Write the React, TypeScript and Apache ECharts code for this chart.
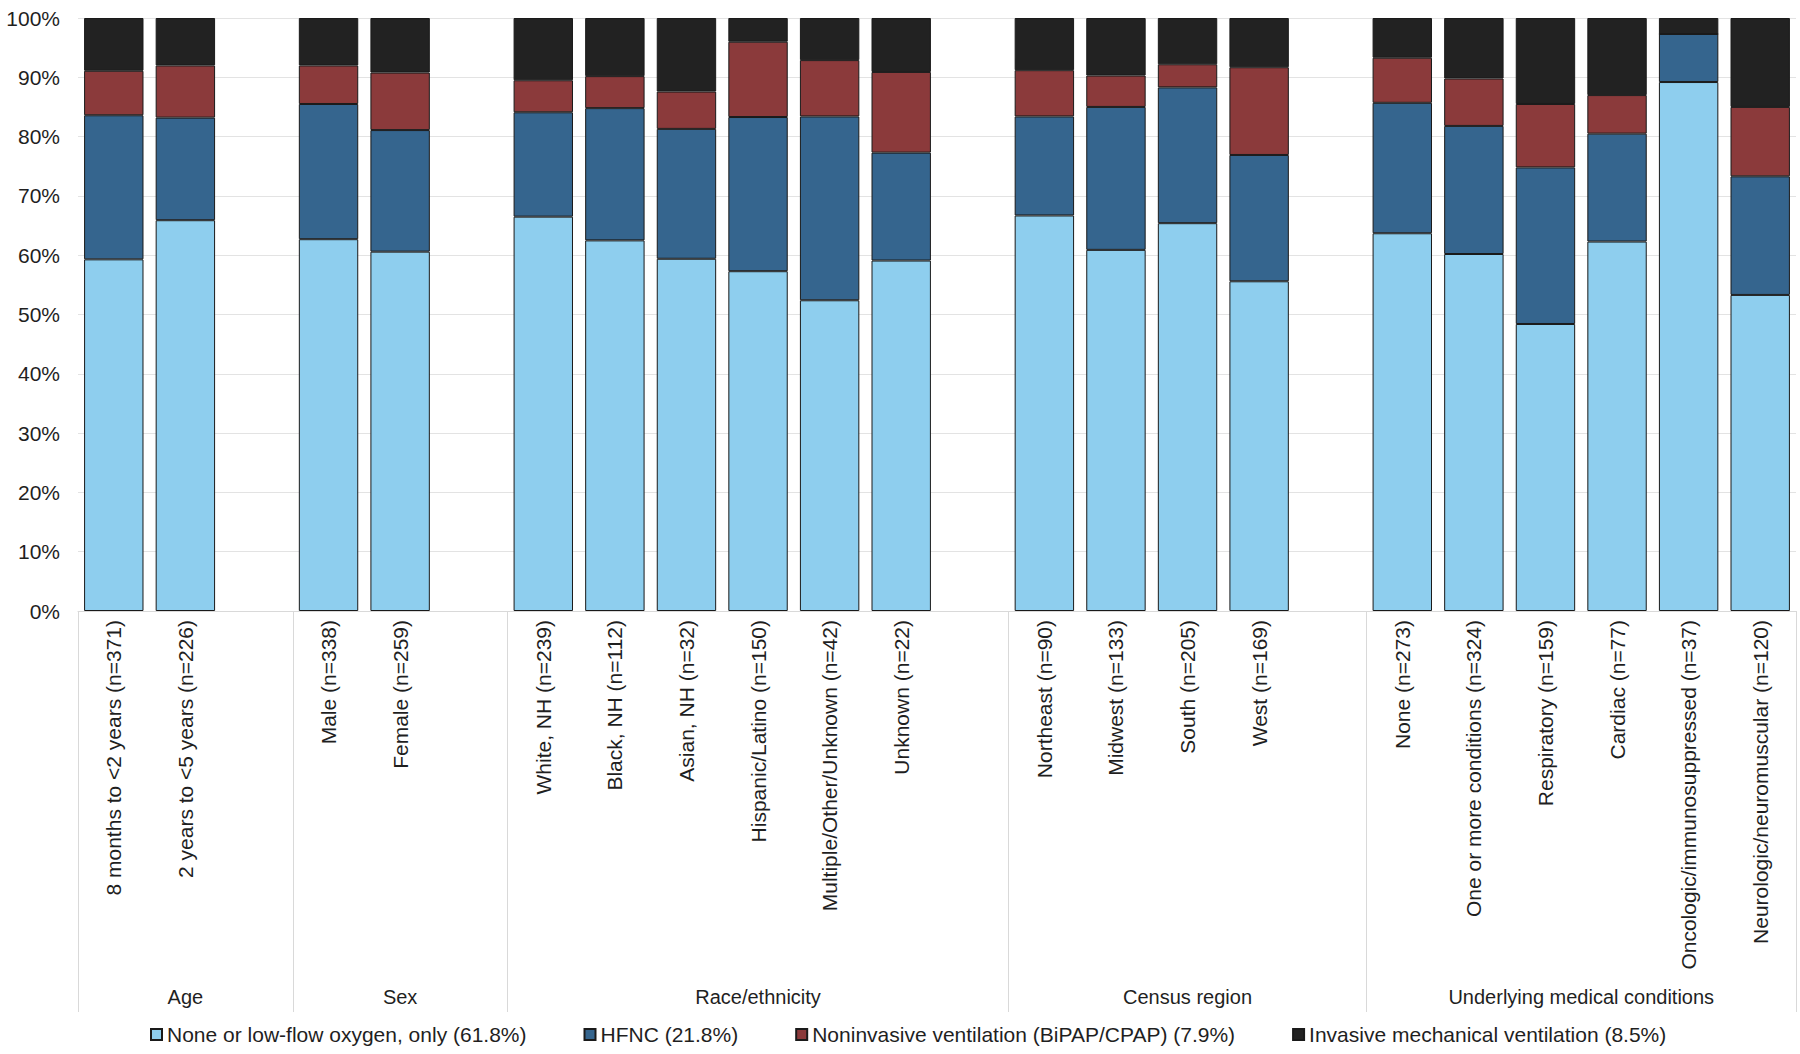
import React, { useEffect, useRef } from "react";
import * as echarts from "echarts";

const groupNames = ["Age", "Sex", "Race/ethnicity", "Census region", "Underlying medical conditions"];
const groupSizes = [2, 2, 6, 4, 6];

const categories = [
  "8 months to <2 years (n=371)",
  "2 years to <5 years (n=226)",
  "Male (n=338)",
  "Female (n=259)",
  "White, NH (n=239)",
  "Black, NH (n=112)",
  "Asian, NH (n=32)",
  "Hispanic/Latino (n=150)",
  "Multiple/Other/Unknown (n=42)",
  "Unknown (n=22)",
  "Northeast (n=90)",
  "Midwest (n=133)",
  "South (n=205)",
  "West (n=169)",
  "None (n=273)",
  "One or more conditions (n=324)",
  "Respiratory (n=159)",
  "Cardiac (n=77)",
  "Oncologic/immunosuppressed (n=37)",
  "Neurologic/neuromuscular (n=120)",
];

const seriesNames = [
  "None or low-flow oxygen, only (61.8%)",
  "HFNC (21.8%)",
  "Noninvasive ventilation (BiPAP/CPAP) (7.9%)",
  "Invasive mechanical ventilation (8.5%)",
];

const lowFlow = [59.3, 65.9, 62.7, 60.6, 66.5, 62.5, 59.4, 57.3, 52.4, 59.1, 66.7, 60.9, 65.4, 55.6, 63.7, 60.2, 48.4, 62.3, 89.2, 53.3];
const hfnc = [24.3, 17.3, 22.8, 20.5, 17.6, 22.3, 21.9, 26.0, 31.0, 18.2, 16.7, 24.1, 22.9, 21.3, 22.0, 21.6, 26.4, 18.2, 8.1, 20.0];
const niv = [7.5, 8.8, 6.5, 9.7, 5.4, 5.4, 6.3, 12.7, 9.5, 13.6, 7.8, 5.3, 3.9, 14.8, 7.6, 8.0, 10.7, 6.5, 0, 11.7];
const imv = [8.9, 8.0, 8.0, 9.2, 10.5, 9.8, 12.4, 4.0, 7.1, 9.1, 8.8, 9.7, 7.8, 8.3, 6.7, 10.2, 14.5, 13.0, 2.7, 15.0];

const yTicks = [0, 10, 20, 30, 40, 50, 60, 70, 80, 90, 100];

const seriesColors = ["#8ECEEE", "#35658E", "#8B3A3B", "#222222"];
const FONT = '"Liberation Sans", Arial, Helvetica, sans-serif';
const TEXT = "#1f1f1f";

// Build slot layout: each group followed by one empty slot (except last)
function buildSlots() {
  const slotNames: string[] = [];
  const slotIndexOfCat: number[] = [];
  const boundaries: number[] = [0];
  const centers: number[] = [];
  let c = 0;
  let slot = 0;
  groupSizes.forEach((size, g) => {
    const start = slot;
    for (let k = 0; k < size; k++) {
      slotNames.push(categories[c]);
      slotIndexOfCat.push(slot);
      c++;
      slot++;
    }
    if (g < groupSizes.length - 1) {
      slotNames.push("gap-" + g);
      slot++;
    }
    boundaries.push(slot);
    centers.push((start + slot) / 2);
  });
  return { slotNames, slotIndexOfCat, boundaries, centers };
}

function expand(values: number[], slotCount: number, slotIndexOfCat: number[]) {
  const out: (number | null)[] = new Array(slotCount).fill(null);
  values.forEach((v, i) => {
    out[slotIndexOfCat[i]] = v;
  });
  return out;
}

export default function App() {
  const ref = useRef<HTMLDivElement>(null);

  useEffect(() => {
    if (!ref.current) return;
    const chart = echarts.init(ref.current, undefined, { renderer: "svg" });
    const { slotNames, slotIndexOfCat, boundaries, centers } = buildSlots();
    const slotCount = slotNames.length;
    const allValues = [lowFlow, hfnc, niv, imv];

    const option: any = {
      animation: false,
      backgroundColor: "#ffffff",
      textStyle: { fontFamily: FONT },
      grid: { left: 78, right: 4, top: 18, bottom: 443, containLabel: false },
      legend: {
        data: seriesNames,
        top: 1019,
        left: 145,
        icon: "rect",
        itemWidth: 11,
        itemHeight: 11,
        itemGap: 57,
        textStyle: { fontSize: 21, color: TEXT, fontFamily: FONT },
      },
      xAxis: [
        {
          type: "category",
          data: slotNames,
          position: "bottom",
          axisLine: { show: true, lineStyle: { color: "#d9d9d9", width: 1 } },
          axisTick: { show: false },
          splitLine: { show: false },
          axisLabel: {
            interval: 0,
            rotate: 90,
            margin: 9,
            fontSize: 21,
            color: TEXT,
            fontFamily: FONT,
            formatter: (v: string) => (v.startsWith("gap-") ? "" : v),
          },
        },
        {
          type: "value",
          min: 0,
          max: slotCount,
          position: "bottom",
          axisLine: { show: false },
          splitLine: { show: false },
          axisTick: {
            show: true,
            customValues: boundaries,
            length: 401,
            lineStyle: { color: "#d9d9d9", width: 1 },
          },
          axisLabel: {
            show: true,
            customValues: centers,
            margin: 376,
            fontSize: 20,
            color: TEXT,
            fontFamily: FONT,
            formatter: (v: number) => {
              const idx = centers.findIndex((c) => Math.abs(c - v) < 1e-6);
              return idx >= 0 ? groupNames[idx] : "";
            },
          },
        },
      ],
      yAxis: {
        type: "value",
        min: 0,
        max: 100,
        interval: 10,
        axisLine: { show: false },
        axisTick: { show: false },
        splitLine: { show: true, lineStyle: { color: "#e3e3e3", width: 1 } },
        axisLabel: {
          margin: 18,
          fontSize: 21,
          color: TEXT,
          fontFamily: FONT,
          customValues: yTicks,
          formatter: "{value}%",
        },
      },
      series: seriesNames.map((name, i) => ({
        name,
        type: "bar",
        stack: "total",
        xAxisIndex: 0,
        barCategoryGap: "17%",
        data: expand(allValues[i], slotCount, slotIndexOfCat),
        itemStyle: { color: seriesColors[i], borderColor: "#1a1a1a", borderWidth: 1 },
        emphasis: { disabled: true },
      })),
    };

    chart.setOption(option);
    return () => chart.dispose();
  }, []);

  return (
    <div
      ref={ref}
      style={{ position: "fixed", left: 0, top: 0, width: 1800, height: 1054, background: "#fff" }}
    />
  );
}
